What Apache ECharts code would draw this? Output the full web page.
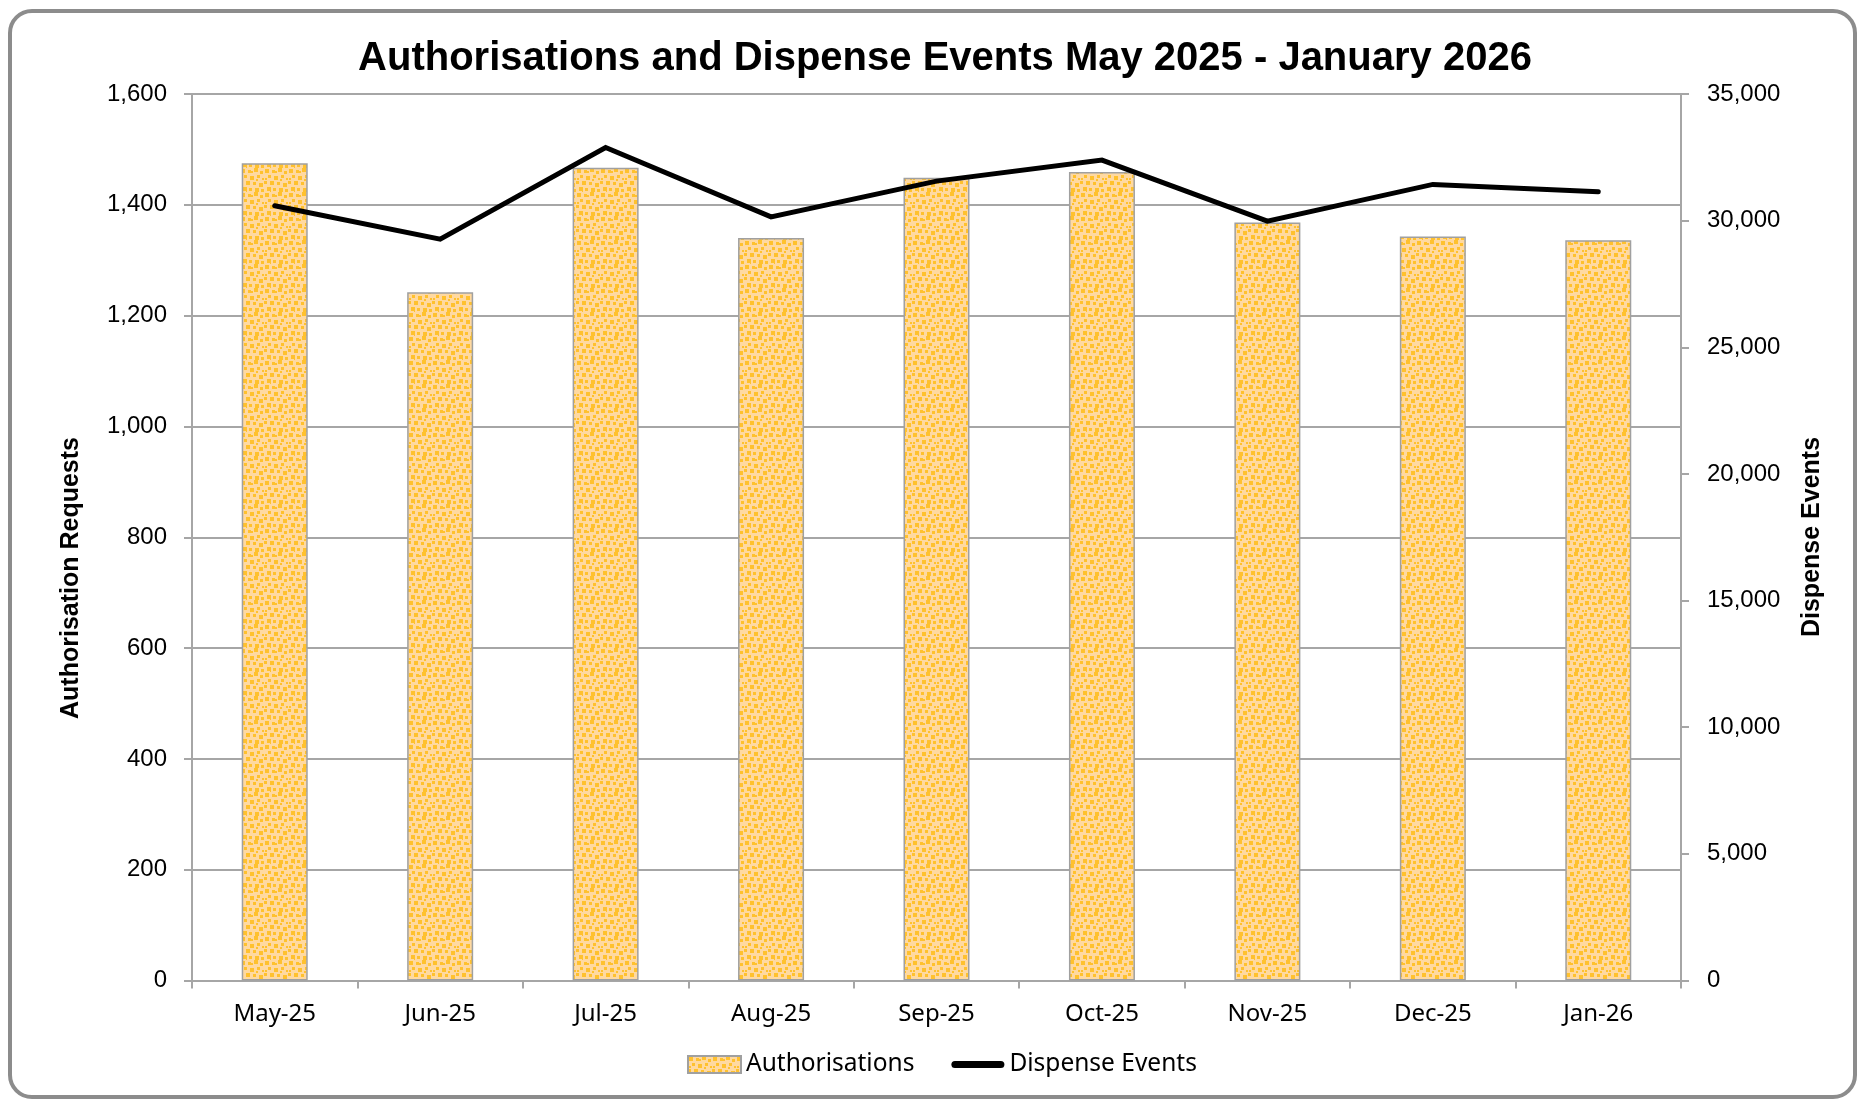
<!DOCTYPE html>
<html>
<head>
<meta charset="utf-8">
<script src="https://cdn.jsdelivr.net/npm/echarts@6/dist/echarts.min.js"></script>
<style>
html,body{margin:0;padding:0;background:#fff;}
#chart{width:1859px;height:1100px;}
</style>
</head>
<body>
<div id="chart"></div>
<script>
const categories = ['May-25','Jun-25','Jul-25','Aug-25','Sep-25','Oct-25','Nov-25','Dec-25','Jan-26'];
const authorisations = [1475, 1242, 1467, 1340, 1449, 1459, 1368, 1343, 1336];
const dispenseEvents = [30590, 29270, 32890, 30150, 31560, 32390, 29980, 31430, 31140];
const leftTicks = { min: 0, max: 1600, interval: 200 };
const rightTicks = { min: 0, max: 35000, interval: 5000 };
const titleText = 'Authorisations and Dispense Events May 2025 - January 2026';

// dotted fill tile for the bars
function makeTile() {
  const c = document.createElement('canvas');
  c.width = 24; c.height = 24;
  const g = c.getContext('2d');
  g.fillStyle = '#FFD9A0';
  g.fillRect(0, 0, 24, 24);
  g.fillStyle = '#FFC12E';
  const sq = [
    [1,1,4],[8,2,3],[14,0,4],[20,3,3],[4,7,3],[10,8,4],[17,7,3],[22,10,2],
    [0,13,3],[6,13,4],[13,14,3],[19,15,4],[3,19,4],[9,20,3],[15,20,4],[21,21,3],
    [11,3,2],[1,10,2],[16,11,2],[6,23,1]
  ];
  sq.forEach(([x,y,s]) => g.fillRect(x, y, s, s));
  return c;
}
const tile = makeTile();

const chart = echarts.init(document.getElementById('chart'));
const fontTick = '"Liberation Sans", Arial, sans-serif';
const fontCat = '"Noto Sans", sans-serif';
const gridColor = '#A6A6A6';

chart.setOption({
  animation: false,
  backgroundColor: '#fff',
  title: {
    text: titleText,
    left: 940,
    textAlign: 'center',
    top: 34,
    textStyle: { fontFamily: fontTick, fontWeight: 'bold', fontSize: 40, color: '#000' }
  },
  grid: { left: 192, right: 178, top: 94, bottom: 119.5, containLabel: false },
  legend: {
    left: 682,
    top: 1047,
    itemWidth: 53,
    itemHeight: 17,
    itemGap: 37,
    symbolKeepAspect: true,
    textStyle: { fontFamily: fontCat, fontSize: 24.5, color: '#000' },
    data: [
      { name: 'Authorisations', icon: 'rect' },
      { name: 'Dispense Events', icon: 'path://M3.5,0H49.5A3.5,3.5 0 0 1 49.5,7H3.5A3.5,3.5 0 0 1 3.5,0Z', itemStyle: { color: '#000' } }
    ]
  },
  xAxis: {
    type: 'category',
    data: categories,
    boundaryGap: true,
    axisLine: { show: true, lineStyle: { color: gridColor, width: 2 } },
    axisTick: { show: true, interval: 0, length: 8, lineStyle: { color: gridColor, width: 2 } },
    axisLabel: { margin: 22, fontFamily: fontCat, fontSize: 24, color: '#000', interval: 0 }
  },
  yAxis: [
    {
      type: 'value',
      min: leftTicks.min, max: leftTicks.max, interval: leftTicks.interval,
      axisLine: { show: true, lineStyle: { color: gridColor, width: 2 } },
      axisTick: { show: true, length: 8, lineStyle: { color: gridColor, width: 2 } },
      splitLine: { show: true, lineStyle: { color: gridColor, width: 2 } },
      axisLabel: {
        margin: 25, fontFamily: fontTick, fontSize: 24, color: '#000',
        formatter: v => v.toLocaleString('en-US')
      }
    },
    {
      type: 'value',
      min: rightTicks.min, max: rightTicks.max, interval: rightTicks.interval,
      axisLine: { show: true, lineStyle: { color: gridColor, width: 2 } },
      axisTick: { show: true, length: 8, lineStyle: { color: gridColor, width: 2 } },
      splitLine: { show: false },
      axisLabel: {
        margin: 26, fontFamily: fontTick, fontSize: 24, color: '#000',
        formatter: v => v.toLocaleString('en-US')
      }
    }
  ],
  series: [
    {
      name: 'Authorisations',
      type: 'bar',
      yAxisIndex: 0,
      data: authorisations,
      barWidth: 66,
      itemStyle: {
        color: { image: tile, repeat: 'repeat' },
        borderColor: '#A0A0A0',
        borderWidth: 1.5
      }
    },
    {
      name: 'Dispense Events',
      type: 'line',
      yAxisIndex: 1,
      data: dispenseEvents,
      symbol: 'none',
      showSymbol: false,
      lineStyle: { color: '#000', width: 5, cap: 'round', join: 'miter' },
      itemStyle: { color: '#000' }
    }
  ],
  graphic: [
    {
      type: 'rect',
      shape: { x: 10, y: 11, width: 1845, height: 1086, r: 22 },
      style: { fill: 'none', stroke: '#8C8C8C', lineWidth: 4 },
      z: 100
    },
    {
      type: 'text',
      x: 71, y: 578,
      rotation: Math.PI / 2,
      style: {
        text: 'Authorisation Requests',
        font: 'bold 25px "Liberation Sans", Arial, sans-serif',
        fill: '#000',
        textAlign: 'center',
        textVerticalAlign: 'middle'
      }
    },
    {
      type: 'text',
      x: 1812, y: 537,
      rotation: Math.PI / 2,
      style: {
        text: 'Dispense Events',
        font: 'bold 25px "Liberation Sans", Arial, sans-serif',
        fill: '#000',
        textAlign: 'center',
        textVerticalAlign: 'middle'
      }
    }
  ]
});
</script>
</body>
</html>
